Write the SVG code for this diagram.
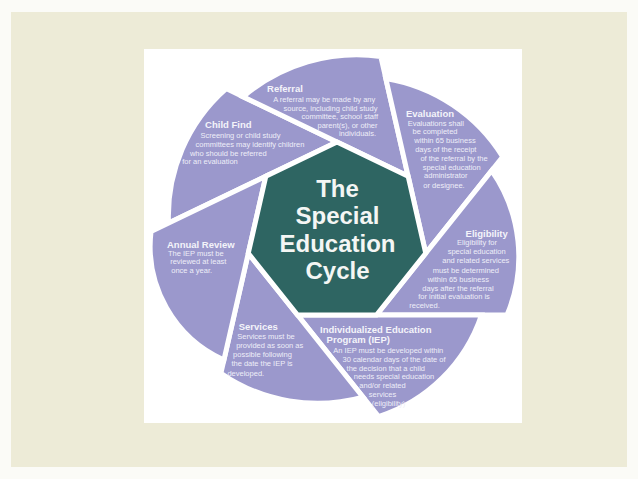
<svg xmlns="http://www.w3.org/2000/svg" width="638" height="479" viewBox="0 0 638 479">
<style>
.blade{fill:#9b98cc;stroke:#ffffff;stroke-width:5;stroke-linejoin:miter}
.hub{fill:#2e6562;stroke:#ffffff;stroke-width:5;stroke-linejoin:miter}
.h{font-family:"Liberation Sans",Arial,sans-serif;font-weight:bold;font-size:9.5px;fill:#f4f4fa;text-anchor:middle}
.b{font-family:"Liberation Sans",Arial,sans-serif;font-size:7.5px;fill:#eeeef8;text-anchor:middle}
.t{font-family:"Liberation Sans",Arial,sans-serif;font-weight:bold;font-size:24px;fill:#f4f6f4;text-anchor:middle}
</style>
<rect x="0" y="0" width="638" height="479" fill="#fbfbf7"/>
<rect x="11" y="12" width="616" height="455" fill="#edebd7"/>
<rect x="144" y="49" width="378" height="374" fill="#ffffff"/>
<g id="child-find">
<path class="blade" d="M265.85,176.26 L168.5,223.1 A170,170 0 0 1 226.2,88.6 L337,142 Z"/>
<text class="h" x="228.3" y="128">Child Find</text>
<text class="b" x="240.5" y="137.7">Screening or child study</text>
<text class="b" x="250" y="146.7">committees may identify children</text>
<text class="b" x="228.3" y="155.7">who should be referred</text>
<text class="b" x="210" y="164.3">for an evaluation</text>
</g>
<g id="referral">
<path class="blade" d="M337,142 L243.1,96.8 A175,175 0 0 1 380.8,56.4 L408.15,176.26 Z"/>
<text class="h" x="285" y="91.7">Referral</text>
<text class="b" x="324.2" y="102.3">A referral may be made by any</text>
<text class="b" x="330.5" y="110.7">source, including child study</text>
<text class="b" x="339.8" y="119.3">committee, school staff</text>
<text class="b" x="347.5" y="127.7">parent(s), or other</text>
<text class="b" x="357.5" y="136">individuals.</text>
</g>
<g id="evaluation">
<path class="blade" d="M408.15,176.26 L385.8,78.5 A170,170 0 0 1 502.7,156.7 L425.72,253.25 Z"/>
<text class="h" x="430" y="116.7">Evaluation</text>
<text class="b" x="435.8" y="126">Evaluations shall</text>
<text class="b" x="435" y="134.3">be completed</text>
<text class="b" x="445" y="143.3">within 65 business</text>
<text class="b" x="445.8" y="152.3">days of the receipt</text>
<text class="b" x="454" y="161">of the referral by the</text>
<text class="b" x="451.7" y="170">special education</text>
<text class="b" x="445.8" y="178.3">administrator</text>
<text class="b" x="444" y="187.7">or designee.</text>
</g>
<g id="eligibility">
<path class="blade" d="M425.72,253.25 L491.6,170.6 A150,150 0 0 1 507,315 L376.48,314.99 Z"/>
<text class="h" x="486.7" y="236.7">Eligibility</text>
<text class="b" x="477" y="245">Eligibility for</text>
<text class="b" x="476.7" y="254.3">special education</text>
<text class="b" x="475.8" y="263.3">and related services</text>
<text class="b" x="465.8" y="272.7">must be determined</text>
<text class="b" x="458.3" y="281.7">within 65 business</text>
<text class="b" x="458" y="290.7">days after the referral</text>
<text class="b" x="454" y="299.3">for initial evaluation is</text>
<text class="b" x="424.5" y="307.8">received.</text>
</g>
<g id="iep">
<path class="blade" d="M376.48,314.99 L481.5,315 A160,160 0 0 1 378.6,416.6 L297.52,314.99 Z"/>
<text class="h" x="375.8" y="333.3">Individualized Education</text>
<text class="h" x="358.3" y="343.3">Program (IEP)</text>
<text class="b" x="388.3" y="353.3">An IEP must be developed within</text>
<text class="b" x="394" y="361.7">30 calendar days of the date of</text>
<text class="b" x="385.8" y="370.7">the decision that a child</text>
<text class="b" x="394" y="379.3">needs special education</text>
<text class="b" x="382.5" y="387.7">and/or related</text>
<text class="b" x="382.5" y="396.7">services</text>
<text class="b" x="388.5" y="406">(eligibility)</text>
</g>
<g id="services">
<path class="blade" d="M297.52,314.99 L363,397.1 A170,170 0 0 1 220.9,373.2 L248.28,253.25 Z"/>
<text class="h" x="258.3" y="330">Services</text>
<text class="b" x="266" y="339.3">Services must be</text>
<text class="b" x="269.7" y="348.3">provided as soon as</text>
<text class="b" x="262.5" y="357.3">possible following</text>
<text class="b" x="262" y="366">the date the IEP is</text>
<text class="b" x="245.8" y="375.7">developed.</text>
</g>
<g id="annual-review">
<path class="blade" d="M248.28,253.25 L223.9,360 A125,125 0 0 1 151,231.6 L265.85,176.26 Z"/>
<text class="h" x="200.8" y="248.3">Annual Review</text>
<text class="b" x="195.8" y="256">The IEP must be</text>
<text class="b" x="198.3" y="264.3">reviewed at least</text>
<text class="b" x="191.7" y="273.3">once a year.</text>
</g>
<g id="cycle-center">
<polygon class="hub" points="337,142 408.15,176.26 425.72,253.25 376.48,314.99 297.52,314.99 248.28,253.25 265.85,176.26"/>
<text class="t" x="337.5" y="196.5">The</text>
<text class="t" x="337.5" y="224">Special</text>
<text class="t" x="337.5" y="251.5">Education</text>
<text class="t" x="337.5" y="278.5">Cycle</text>
</g>
</svg>
